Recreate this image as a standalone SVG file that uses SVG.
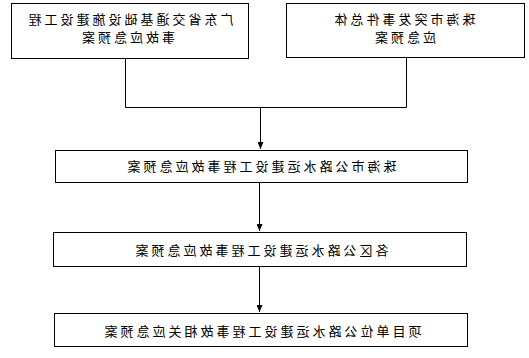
<svg xmlns="http://www.w3.org/2000/svg" width="529" height="358" viewBox="0 0 529 358">
<style>
.box{fill:#fff;stroke:#000;stroke-width:1}
.t{font-family:"Noto Sans CJK SC","Noto Sans CJK JP",sans-serif;font-size:13px;letter-spacing:3px;fill:#000;text-anchor:middle}
.c{fill:none;stroke:#000;stroke-width:1}
</style>
<defs>
<marker id="ah" markerWidth="7" markerHeight="6" refX="7" refY="3" orient="auto" markerUnits="userSpaceOnUse">
<path d="M0,0 L7,3 L0,6 Z" fill="#000"/>
</marker>
</defs>
<rect width="529" height="358" fill="#fff"/>
<g id="connectors">
<path class="c" d="M125.5,58 V107.5 H406.5 V57"/>
<path class="c" d="M260.5,107.5 V149" marker-end="url(#ah)"/>
<path class="c" d="M259.5,182 V231" marker-end="url(#ah)"/>
<path class="c" d="M259.5,266 V312" marker-end="url(#ah)"/>
</g>
<g id="n1">
<rect class="box" x="11.5" y="3.5" width="237" height="55"/>
<text class="t" transform="matrix(-1 0 0 1 129.5 0)" x="0" y="24">广东省交通基础设施建设工程</text>
<text class="t" transform="matrix(-1 0 0 1 127 0)" x="0" y="42">事故应急预案</text>
</g>
<g id="n2">
<rect class="box" x="286.5" y="3.5" width="238" height="54"/>
<text class="t" transform="matrix(-1 0 0 1 403.5 0)" x="0" y="24">珠海市突发事件总体</text>
<text class="t" transform="matrix(-1 0 0 1 404 0)" x="0" y="42">应急预案</text>
</g>
<g id="n3">
<rect class="box" x="55.5" y="150.5" width="412" height="32"/>
<text class="t" transform="matrix(-1 0 0 1 260.5 0)" x="0" y="171">珠海市公路水运建设工程事故应急预案</text>
</g>
<g id="n4">
<rect class="box" x="53.5" y="232.5" width="413" height="34"/>
<text class="t" transform="matrix(-1 0 0 1 260.5 0)" x="0" y="255">各区公路水运建设工程事故应急预案</text>
</g>
<g id="n5">
<rect class="box" x="54.5" y="313.5" width="413" height="33"/>
<text class="t" transform="matrix(-1 0 0 1 261.5 0)" x="0" y="336">项目单位公路水运建设工程事故相关应急预案</text>
</g>
</svg>
